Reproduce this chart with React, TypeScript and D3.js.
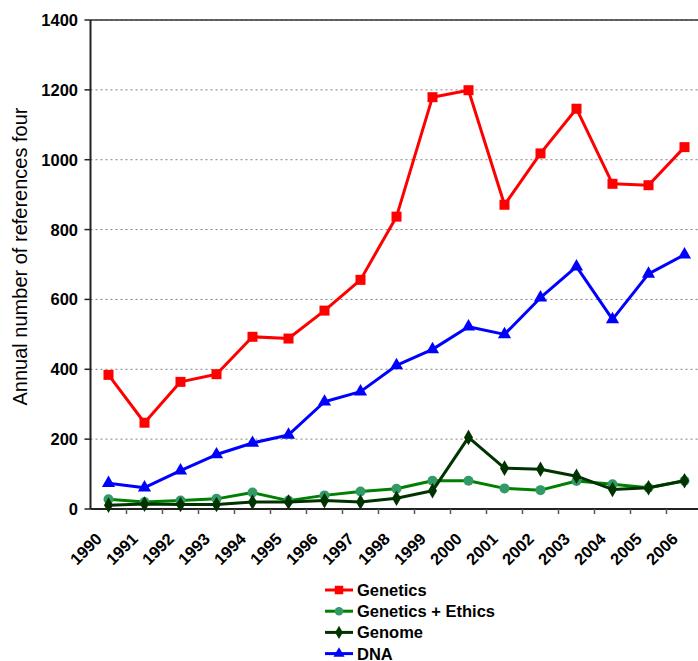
import React from "react";
import * as d3 from "d3";

const years = ["1990","1991","1992","1993","1994","1995","1996","1997","1998","1999","2000","2001","2002","2003","2004","2005","2006"];
const genetics = [384, 247, 364, 386, 493, 488, 568, 656, 837, 1179, 1199, 871, 1018, 1146, 931, 927, 1036];
const geneticsEthics = [28, 20, 24, 29, 47, 24, 39, 50, 58, 81, 81, 59, 54, 80, 71, 61, 81];
const genome = [11, 14, 13, 13, 20, 20, 24, 20, 31, 52, 205, 117, 114, 94, 56, 61, 81];
const dna = [74, 61, 110, 156, 189, 212, 307, 336, 411, 457, 522, 500, 605, 694, 543, 673, 728];
const yTicks = [0, 200, 400, 600, 800, 1000, 1200, 1400];

type Series = { name: string; values: number[]; line: string; fill: string; shape: string };
const series: Series[] = [
  { name: "Genetics", values: genetics, line: "#FF0000", fill: "#FF0000", shape: "square" },
  { name: "Genetics + Ethics", values: geneticsEthics, line: "#008000", fill: "#339966", shape: "circle" },
  { name: "Genome", values: genome, line: "#003300", fill: "#003300", shape: "diamond" },
  { name: "DNA", values: dna, line: "#0000FF", fill: "#0000FF", shape: "triangle" },
];
// draw order: Genetics, DNA, Genetics+Ethics, Genome
const drawOrder = [0, 3, 1, 2];

const W = 698, H = 661;
const left = 90.5, right = 702.5, top = 20, bottom = 509;
const font = "'Liberation Sans', Arial, sans-serif";

function Marker({ shape, x, y, fill, s = 1 }: { shape: string; x: number; y: number; fill: string; s?: number }) {
  if (shape === "square") return <rect x={x - 5 * s} y={y - 5 * s} width={10 * s} height={10 * s} fill={fill} />;
  if (shape === "circle") return <circle cx={x} cy={y} r={5 * s} fill={fill} />;
  if (shape === "diamond") {
    const p = d3.symbol(d3.symbolDiamond, 70 * s * s)();
    return <path d={p || ""} transform={`translate(${x},${y})`} fill={fill} />;
  }
  const p = d3.symbol(d3.symbolTriangle, 75 * s * s)();
  return <path d={p || ""} transform={`translate(${x},${y})`} fill={fill} />;
}

export default function App() {
  const x = d3.scaleBand<string>().domain(years).range([left, right]).padding(0);
  const y = d3.scaleLinear().domain([0, 1400]).range([bottom, top]);
  const cx = (yr: string) => (x(yr) as number) + x.bandwidth() / 2;
  const line = d3.line<number>().x((_, i) => cx(years[i])).y((v) => y(v));

  return (
    <svg width={W} height={H} style={{ position: "absolute", left: 0, top: 0, background: "#fff" }} fontFamily={font}>
      {/* grid */}
      {yTicks.filter((t) => t > 0).map((t) => (
        <line key={t} x1={left} x2={W} y1={y(t)} y2={y(t)} stroke="#808080" strokeWidth={1} strokeDasharray="2,3" />
      ))}
      <line x1={left} x2={W} y1={top} y2={top} stroke="#333" strokeWidth={1.5} />
      {/* y axis */}
      <line x1={left} x2={left} y1={top} y2={bottom} stroke="#222" strokeWidth={2} />
      {yTicks.map((t) => (
        <g key={t}>
          <line x1={left - 6} x2={left} y1={y(t)} y2={y(t)} stroke="#222" strokeWidth={1.5} />
          <text x={78} y={y(t)} dy="0.36em" textAnchor="end" fontSize={16.5} fontWeight="bold" fill="#000">{t}</text>
        </g>
      ))}
      {/* x axis */}
      <line x1={left} x2={W} y1={bottom} y2={bottom} stroke="#222" strokeWidth={2} />
      {years.slice(1).map((yr) => (
        <line key={yr} x1={x(yr) as number} x2={x(yr) as number} y1={bottom} y2={bottom + 5} stroke="#555" strokeWidth={1.5} />
      ))}
      {years.map((yr) => (
        <text key={yr} transform={`translate(${cx(yr) - 5.5},${bottom + 31}) rotate(-45)`} textAnchor="end"
          fontSize={16.5} fontWeight="bold" fill="#000">{yr}</text>
      ))}
      {/* y title */}
      <text transform={`translate(27,${(410 + 103) / 2}) rotate(-90)`} textAnchor="middle" fontSize={20} fill="#000">
        Annual number of references four
      </text>
      {/* series */}
      {drawOrder.map((si) => {
        const s = series[si];
        return (
          <g key={s.name}>
            <path d={line(s.values) || ""} fill="none" stroke={s.line} strokeWidth={3} strokeLinejoin="round" />
            {s.values.map((v, i) => (
              <Marker key={i} shape={s.shape} x={cx(years[i])} y={y(v)} fill={s.fill} />
            ))}
          </g>
        );
      })}
      {/* legend */}
      {series.map((s, i) => {
        const ly = 590 + i * 21.2;
        return (
          <g key={s.name}>
            <line x1={325} x2={353} y1={ly} y2={ly} stroke={s.line} strokeWidth={3} />
            <Marker shape={s.shape} x={339} y={ly} fill={s.fill} s={0.85} />
            <text x={357} y={ly} dy="0.36em" fontSize={16.5} fontWeight="bold" fill="#000">{s.name}</text>
          </g>
        );
      })}
    </svg>
  );
}
